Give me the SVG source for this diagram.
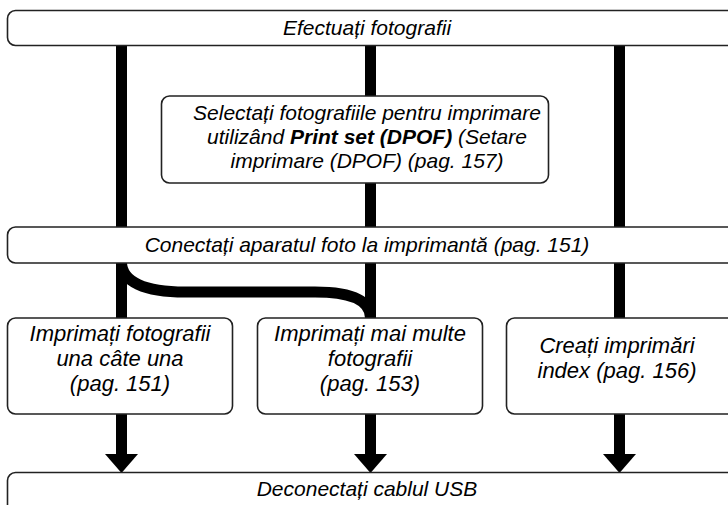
<svg xmlns="http://www.w3.org/2000/svg" width="728" height="505" viewBox="0 0 728 505">
<defs>
<style>
.box{fill:#fff;stroke:#222;stroke-width:1.6}
.bar{fill:#000}
.t{font-family:"Liberation Sans",Arial,sans-serif;font-style:italic;font-size:21px;fill:#000;text-anchor:middle}
.s{font-size:22px}
.b{font-weight:bold}
.conn{fill:none;stroke:#000;stroke-width:11}
</style>
</defs>
<g id="connectors">
<rect class="bar" x="116" y="46" width="11" height="181"/>
<rect class="bar" x="365" y="46" width="11" height="50"/>
<rect class="bar" x="365" y="183" width="11" height="44"/>
<rect class="bar" x="614" y="46" width="11" height="181"/>
<rect class="bar" x="116" y="263" width="11" height="55"/>
<rect class="bar" x="365" y="263" width="11" height="55"/>
<rect class="bar" x="614" y="263" width="11" height="55"/>
<path class="conn" d="M121.5,262 C121.5,282 145,292 185,292 L315,292 C350,292 370.5,300 370.5,318"/>
<rect class="bar" x="116" y="414" width="11" height="41"/>
<rect class="bar" x="365" y="414" width="11" height="41"/>
<rect class="bar" x="614" y="414" width="11" height="41"/>
<polygon class="bar" points="105,454 138,454 121.5,473"/>
<polygon class="bar" points="354,454 387,454 370.5,473"/>
<polygon class="bar" points="603,454 636,454 619.5,473"/>
</g>
<g id="n-efectuati">
<rect class="box" x="7.5" y="10.5" width="740" height="35" rx="8"/>
<text class="t" x="367" y="35">Efectuați fotografii</text>
</g>
<g id="n-dpof">
<rect class="box" x="161.5" y="96" width="387" height="87" rx="8"/>
<text class="t" x="367" y="120">Selectați fotografiile pentru imprimare</text>
<text class="t" x="367" y="144">utilizând <tspan class="b">Print set (DPOF)</tspan> (Setare</text>
<text class="t" x="367" y="168">imprimare (DPOF) (pag. 157)</text>
</g>
<g id="n-conectati">
<rect class="box" x="7.5" y="227" width="740" height="36" rx="8"/>
<text class="t" x="367" y="252">Conectați aparatul foto la imprimantă (pag. 151)</text>
</g>
<g id="n-una">
<rect class="box" x="7.5" y="318" width="225" height="96" rx="8"/>
<text class="t s" x="120" y="341">Imprimați fotografii</text>
<text class="t s" x="120" y="366">una câte una</text>
<text class="t s" x="120" y="391">(pag. 151)</text>
</g>
<g id="n-multe">
<rect class="box" x="257.5" y="318" width="225" height="96" rx="8"/>
<text class="t s" x="370" y="341">Imprimați mai multe</text>
<text class="t s" x="370" y="366">fotografii</text>
<text class="t s" x="370" y="391">(pag. 153)</text>
</g>
<g id="n-index">
<rect class="box" x="506.5" y="318" width="240" height="96" rx="8"/>
<text class="t s" x="617" y="353">Creați imprimări</text>
<text class="t s" x="617" y="378">index (pag. 156)</text>
</g>
<g id="n-deconectati">
<rect class="box" x="7.5" y="472.5" width="740" height="60" rx="8"/>
<text class="t" x="367" y="496">Deconectați cablul USB</text>
</g>
</svg>
